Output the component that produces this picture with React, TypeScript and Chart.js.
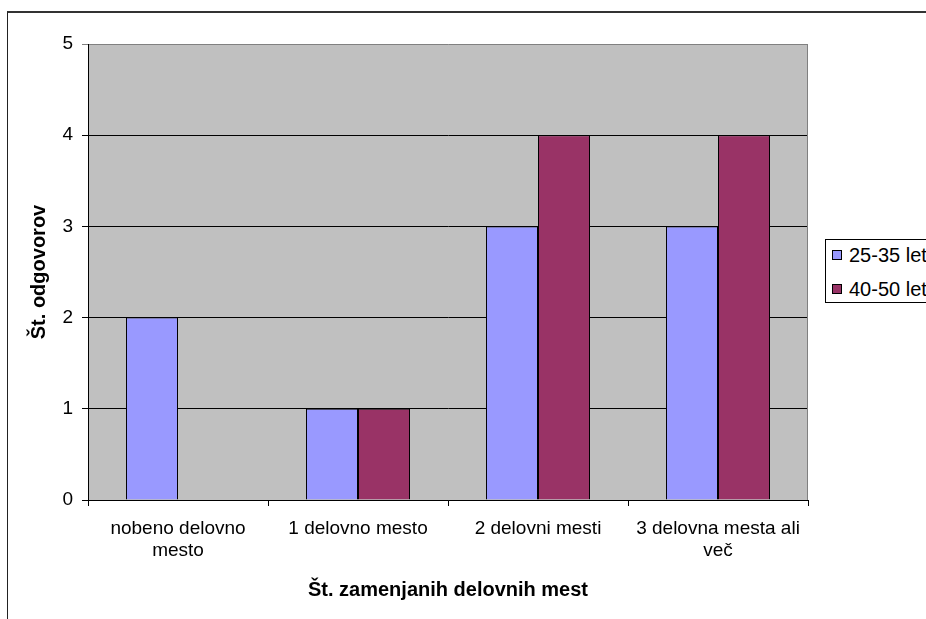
import React, { useEffect, useRef } from "react";
import { Chart, registerables } from "chart.js";

Chart.register(...registerables);

// Categories (x axis), multi-line where the label wraps
const categories: string[][] = [
  ["nobeno delovno", "mesto"],
  ["1 delovno mesto"],
  ["2 delovni mesti"],
  ["3 delovna mesta ali", "več"],
];

// Series
const seriesNames: string[] = ["25-35 let", "40-50 let"];
const values2535: number[] = [2, 1, 3, 3];
const values4050: number[] = [0, 1, 4, 4];
const seriesColors: string[] = ["#9999FF", "#993366"];

// Axis settings
const yMin = 0;
const yMax = 5;
const yStep = 1;
const xTitle = "Št. zamenjanih delovnih mest";
const yTitle = "Št. odgovorov";

const FONT = "'Liberation Sans', Arial, Helvetica, sans-serif";

// Grey plot background with a grey right-hand border
const plotBackground = {
  id: "plotBackground",
  beforeDraw(chart: any) {
    const { ctx, chartArea } = chart;
    if (!chartArea) return;
    ctx.save();
    ctx.fillStyle = "#C0C0C0";
    ctx.fillRect(chartArea.left, chartArea.top, chartArea.right - chartArea.left, chartArea.bottom - chartArea.top);
    ctx.restore();
  },
  beforeDatasetsDraw(chart: any) {
    const { ctx, chartArea } = chart;
    if (!chartArea) return;
    ctx.save();
    ctx.strokeStyle = "#808080";
    ctx.lineWidth = 1;
    const x = Math.round(chartArea.right) - 0.5;
    ctx.beginPath();
    ctx.moveTo(x, chartArea.top);
    ctx.lineTo(x, chartArea.bottom);
    ctx.stroke();
    ctx.restore();
  },
};

export default function App() {
  const canvasRef = useRef<HTMLCanvasElement | null>(null);

  useEffect(() => {
    const canvas = canvasRef.current;
    if (!canvas) return;

    const datasets = [values2535, values4050].map((data, i) => ({
      label: seriesNames[i],
      data,
      backgroundColor: seriesColors[i],
      borderColor: "#000000",
      borderWidth: 1,
      barPercentage: 1.0,
      categoryPercentage: 0.578,
    }));

    const gridColor = (ctx: any) => (ctx.tick && ctx.tick.value === yMax ? "#808080" : "#000000");

    const chart = new Chart(canvas, {
      type: "bar",
      data: { labels: categories, datasets },
      plugins: [plotBackground],
      options: {
        animation: false,
        responsive: false,
        devicePixelRatio: 1,
        layout: { padding: { top: 44, right: 118, left: 0, bottom: 0 } },
        plugins: {
          legend: { display: false },
          tooltip: { enabled: false },
        },
        scales: {
          x: {
            offset: true,
            afterFit: (scale: any) => {
              scale.height = 119;
            },
            grid: {
              offset: true,
              drawOnChartArea: false,
              drawTicks: true,
              tickLength: 6,
              tickColor: "#000000",
            },
            border: { display: true, color: "#000000", width: 1 },
            ticks: {
              color: "#000000",
              font: { family: FONT, size: 19, lineHeight: 1.15 },
              padding: 12,
              maxRotation: 0,
              autoSkip: false,
            },
            title: {
              display: true,
              text: xTitle,
              color: "#000000",
              font: { family: FONT, size: 20, weight: "bold", lineHeight: 1.2 },
              padding: { top: 0, bottom: 17 },
            },
          },
          y: {
            min: yMin,
            max: yMax,
            afterFit: (scale: any) => {
              scale.width = 88;
            },
            grid: {
              color: gridColor,
              tickColor: gridColor,
              lineWidth: 1,
              drawTicks: true,
              tickLength: 6,
            },
            border: { display: true, color: "#000000", width: 1 },
            ticks: {
              stepSize: yStep,
              color: "#000000",
              font: { family: FONT, size: 19 },
              padding: 9,
            },
            title: {
              display: true,
              text: yTitle,
              color: "#000000",
              font: { family: FONT, size: 20, weight: "bold", lineHeight: 1.2 },
              padding: { top: 27, bottom: 0 },
            },
          },
        },
      },
    } as any);

    return () => chart.destroy();
  }, []);

  return (
    <div
      style={{
        position: "fixed",
        left: 0,
        top: 0,
        width: 926,
        height: 619,
        overflow: "hidden",
        background: "#ffffff",
      }}
    >
      <div
        style={{
          position: "absolute",
          left: 7,
          top: 11,
          width: 1000,
          height: 700,
          borderTop: "2px solid #333333",
          borderLeft: "1px solid #222222",
          boxSizing: "border-box",
        }}
      />
      <canvas
        ref={canvasRef}
        width={926}
        height={619}
        style={{ position: "absolute", left: 0, top: 0, width: 926, height: 619 }}
      />
      <div
        style={{
          position: "absolute",
          left: 825,
          top: 239,
          width: 200,
          height: 64,
          border: "1px solid #000000",
          boxSizing: "border-box",
          background: "#ffffff",
          fontFamily: FONT,
          fontSize: 20,
          color: "#000000",
        }}
      >
        {seriesNames.map((name, i) => (
          <div
            key={name}
            style={{
              position: "absolute",
              left: 6,
              top: 4 + i * 34,
              height: 22,
              display: "flex",
              alignItems: "center",
              whiteSpace: "nowrap",
            }}
          >
            <span
              style={{
                display: "inline-block",
                width: 10,
                height: 10,
                background: seriesColors[i],
                border: "1px solid #000000",
                boxSizing: "border-box",
                marginRight: 7,
              }}
            />
            <span style={{ lineHeight: "22px" }}>{name}</span>
          </div>
        ))}
      </div>
    </div>
  );
}
